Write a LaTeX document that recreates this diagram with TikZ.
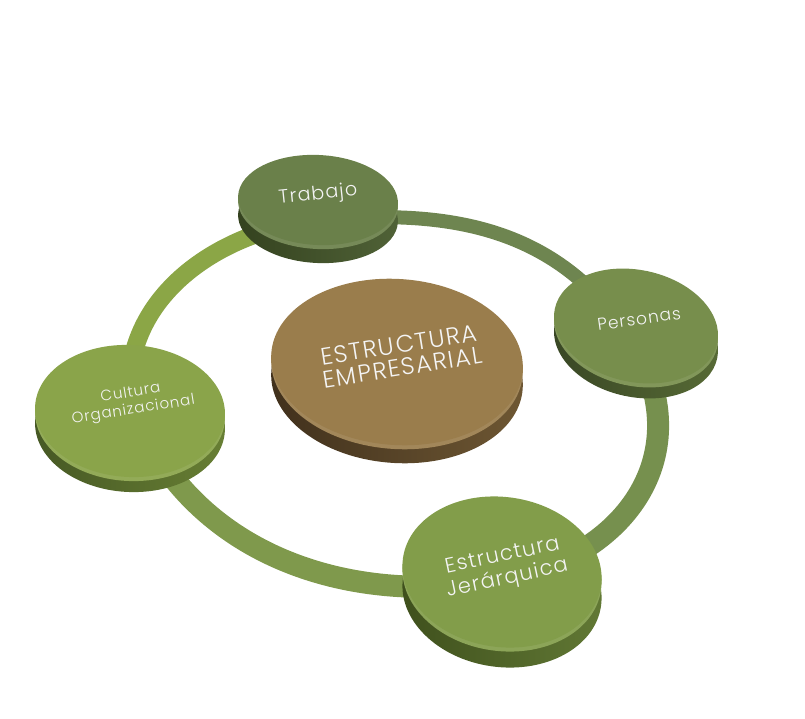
\documentclass[tikz,border=0pt]{standalone}
\usepackage{fontspec}
\setmainfont{Poppins}[UprightFont={* Light},LetterSpace=6]
\usetikzlibrary{shapes.geometric}

\definecolor{ringlt}{HTML}{8BA646}
\definecolor{ringdk}{HTML}{6E8550}
\definecolor{ringrt}{HTML}{76904E}
\definecolor{ringbt}{HTML}{7F994C}
\definecolor{lbltext}{HTML}{F4F4F4}

\begin{document}
\begin{tikzpicture}[x=1pt,y=1pt,
    face/.style={ellipse,inner sep=0pt,draw=none},
    rim/.style={ellipse,inner sep=0pt,draw=none},
    ring/.style={line cap=butt},
    lbl/.style={text=lbltext,align=center,inner sep=0pt}]

  \useasboundingbox (0,0) rectangle (805,-719);

  % points of the ring hidden under the discs
  \coordinate (rA) at (322,-220);
  \coordinate (rB) at (625,-330);
  \coordinate (rC) at (500,-580);
  \coordinate (rD) at (130,-400);

  % --- ring ---
  \draw[ring,ringlt,line width=18pt] (rD) to[out=95,in=185] (rA);
  \draw[ring,ringdk,line width=14pt] (rA) to[out=5,in=125] (rB);
  \draw[ring,ringrt,line width=22pt] (rB) to[out=-55,in=10,looseness=1.25] (rC);
  \draw[ring,ringbt,line width=22pt] (rC) to[out=190,in=-70] (rD);

  % --- discs: name/x/y/rx/ry/rot/thickness/top/side dark/side light ---
  \foreach \n/\x/\y/\rx/\ry/\r/\t/\ct/\cs/\cl in {
      trab/318/200/80/45/-3/18/6A804A/34421F/506237,
      pers/636/326/83/56/-12/15/778E4C/384624/586B36,
      cult/130/411/95/66/-3/15/8AA44A/465824/687F34,
      cent/397/362/126/83/-4/18/9A7D4C/40301C/6E5733,
      jer/502/572/100/75/-8/20/829D4A/3E4F1C/627935}{
    \definecolor{topc}{HTML}{\ct}
    \definecolor{sidedk}{HTML}{\cs}
    \definecolor{sidelt}{HTML}{\cl}
    \node[rim,minimum width=2*\rx pt,minimum height=2*\ry pt,rotate=\r,
          left color=sidedk,right color=sidelt] (\n-side) at (\x,-\y-\t) {};
    \node[rim,minimum width=2*\rx pt,minimum height=2*\ry pt,rotate=\r,
          fill=topc!92!white] (\n-bevel) at (\x,-\y-4) {};
    \node[face,minimum width=2*\rx pt,minimum height=2*\ry pt,rotate=\r,
          fill=topc] (\n) at (\x,-\y) {};
  }

  % --- labels: name/x/y/rot/size/skip/text ---
  \foreach \n/\x/\y/\r/\s/\b/\txt in {
      trab/318/195/6/19/21/{Trabajo},
      pers/639/319/8/17/19/{Personas},
      cult/132/402/9/15/17/{Cultura\\Organizacional},
      cent/401/356/9/24/23/{ESTRUCTURA\\EMPRESARIAL},
      jer/505/568/12/21/23/{Estructura\\Jerárquica}}{
    \node[lbl,rotate=\r,font=\fontsize{\s}{\b}\selectfont]
         (\n-txt) at (\x,-\y) {\txt};
  }

\end{tikzpicture}
\end{document}
